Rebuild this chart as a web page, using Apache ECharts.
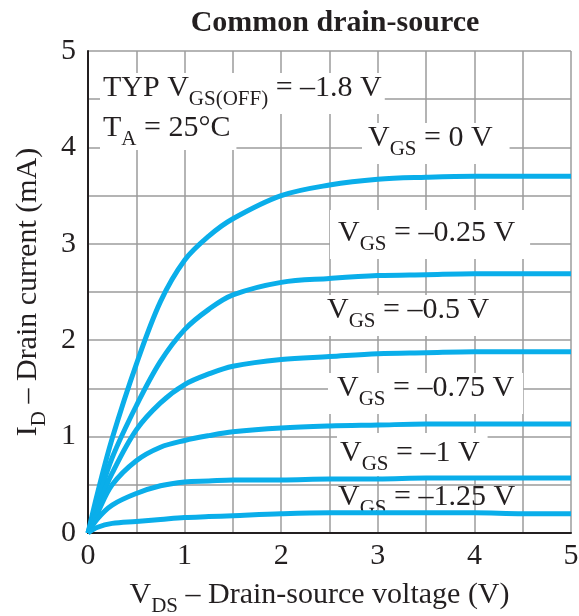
<!DOCTYPE html>
<html>
<head>
<meta charset="utf-8">
<script src="https://cdn.jsdelivr.net/npm/echarts@6/dist/echarts.min.js"></script>
<style>
  html, body { margin: 0; padding: 0; background: #fff; }
  #chart { width: 579px; height: 616px; }
</style>
</head>
<body>
<div id="chart"></div>
<script>
// drain-source voltage (V)
const vds = [0, 0.1, 0.25, 0.5, 0.75, 1, 1.25, 1.5, 2, 2.5, 3, 3.5, 4, 4.5, 5]
// drain current (mA) for each gate-source voltage
const idVgs0 = [0, 0.42, 0.98, 1.75, 2.4, 2.83, 3.08, 3.26, 3.5, 3.61, 3.67, 3.69, 3.7, 3.7, 3.7]
const idVgs025 = [0, 0.33, 0.78, 1.32, 1.78, 2.11, 2.32, 2.47, 2.6, 2.64, 2.67, 2.68, 2.69, 2.69, 2.69]
const idVgs05 = [0, 0.27, 0.62, 1.07, 1.35, 1.54, 1.65, 1.73, 1.8, 1.83, 1.86, 1.87, 1.88, 1.88, 1.88]
const idVgs075 = [0, 0.21, 0.5, 0.75, 0.89, 0.96, 1.01, 1.05, 1.09, 1.11, 1.12, 1.13, 1.13, 1.13, 1.13]
const idVgs1 = [0, 0.15, 0.29, 0.41, 0.49, 0.53, 0.54, 0.55, 0.55, 0.56, 0.56, 0.57, 0.57, 0.57, 0.57]
const idVgs125 = [0, 0.06, 0.1, 0.12, 0.14, 0.16, 0.17, 0.18, 0.2, 0.21, 0.21, 0.21, 0.21, 0.2, 0.2]
const curveNames = ['0 V', '-0.25 V', '-0.5 V', '-0.75 V', '-1 V', '-1.25 V']

const SERIF = 'Liberation Serif'
const INK = '#231f20'
const GRID_GRAY = '#9c9c9c'
const CURVE = '#0aaeea'

// rich styles: main text + lowered subscript
const rich = {
  m: { fontSize: 30, fontFamily: SERIF, fill: INK, color: INK, verticalAlign: 'top' },
  s: { fontSize: 21, fontFamily: SERIF, fill: INK, color: INK, verticalAlign: 'top', padding: [16, 0, 0, 0] }
}

function note(text, x, y, pad, bg) {
  return {
    type: 'text',
    x,
    y,
    z: 1,
    style: {
      text,
      rich,
      align: 'left',
      verticalAlign: 'top',
      backgroundColor: bg ? '#fff' : 'transparent',
      padding: pad
    }
  }
}

const chart = echarts.init(document.getElementById('chart'))

const series = [idVgs0, idVgs025, idVgs05, idVgs075, idVgs1, idVgs125].map((arr, k) => ({
  name: curveNames[k],
  type: 'line',
  data: vds.map((v, i) => [v, arr[i]]),
  smooth: 0.35,
  showSymbol: false,
  lineStyle: { color: CURVE, width: 5 },
  z: 3
}))

const axisCommon = {
  type: 'value',
  min: 0,
  max: 5,
  interval: 1,
  axisLine: { show: true, lineStyle: { color: INK, width: 2 } },
  axisTick: { show: false },
  splitLine: { show: true, lineStyle: { color: GRID_GRAY, width: 1.5 } },
  minorTick: { show: false, splitNumber: 2 },
  minorSplitLine: { show: true, lineStyle: { color: GRID_GRAY, width: 1.5 } },
  axisLabel: { fontSize: 30, fontFamily: SERIF, color: INK },
  nameLocation: 'middle'
}

const option = {
  animation: false,
  title: {
    text: 'Common drain-source',
    left: 330,
    textAlign: 'center',
    top: 3,
    textStyle: { fontFamily: SERIF, fontWeight: 'bold', fontSize: 30, color: INK }
  },
  grid: { left: 88, right: 8, top: 51, bottom: 83, containLabel: false, outerBoundsMode: 'none' },
  xAxis: Object.assign({}, axisCommon, {
    axisLabel: Object.assign({}, axisCommon.axisLabel, { margin: 8 }),
    name: '{m|V}{s|DS}{m| – Drain-source voltage (V)}',
    nameGap: 47,
    nameTextStyle: { padding: [0, 20, 0, 0], rich }
  }),
  yAxis: Object.assign({}, axisCommon, {
    axisLabel: Object.assign({}, axisCommon.axisLabel, { margin: 12 }),
    name: '{m|I}{s|D}{m| – Drain current (mA)}',
    nameGap: 36,
    nameTextStyle: { rich }
  }),
  graphic: [
    note('{m|TYP V}{s|GS(OFF)}{m| = –1.8 V}', 100, 73, [0, 3, 4, 3], true),
    note('{m|T}{s|A}{m| = 25°C}', 100, 113, [0, 6, 0, 3], true),
    note('{m|V}{s|GS}{m| = 0 V}', 362, 123, [0, 17, 4, 6], true),
    note('{m|V}{s|GS}{m| = –0.25 V}', 330, 210, [8, 15, 4, 8], true),
    note('{m|V}{s|GS}{m| = –0.5 V}', 322, 295, [0, 8, 4, 5], true),
    note('{m|V}{s|GS}{m| = –0.75 V}', 328, 373, [0, 9, 4, 9], true),
    note('{m|V}{s|GS}{m| = –1 V}', 337, 433, [5, 8, 1, 3], true),
    note('{m|V}{s|GS}{m| = –1.25 V}', 338, 482, [0, 0, 0, 0], false)
  ],
  series
}

chart.setOption(option)
</script>
</body>
</html>
